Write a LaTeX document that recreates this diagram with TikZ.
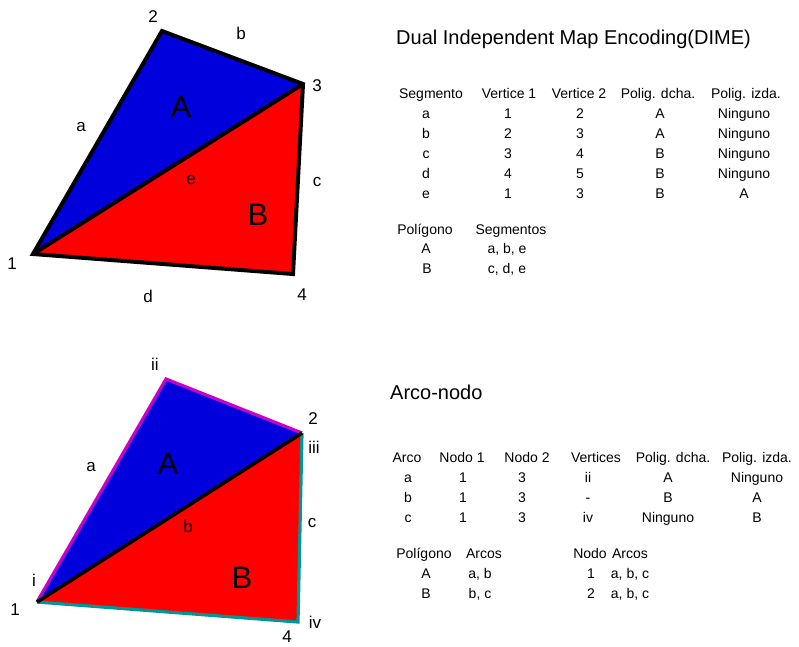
\documentclass[tikz,border=0pt]{standalone}
\usepackage{fontspec}
\setmainfont{Liberation Sans}
\begin{document}
\begin{tikzpicture}[x=1pt,y=-1pt,
  tab/.style={font=\fontsize{14}{16}\selectfont, inner sep=0pt, text height=10pt, text depth=0pt, anchor=center},
  ttl/.style={font=\fontsize{20}{23}\selectfont, inner sep=0pt, text height=14pt, text depth=0pt, anchor=west},
  vlab/.style={font=\fontsize{17}{20}\selectfont, inner sep=0pt, text height=12pt, text depth=0pt},
  elab/.style={font=\fontsize{17}{20}\selectfont, inner sep=0pt, text height=9pt, text depth=0pt},
  plab/.style={font=\fontsize{31}{34}\selectfont, inner sep=0pt, text height=22pt, text depth=0pt},
  blueface/.style={fill={rgb,255:red,0;green,0;blue,220}},
  redface/.style={fill={rgb,255:red,255;green,0;blue,0}},
  edge/.style={line width=4pt, draw=black},
  mag/.style={line width=3.2pt, draw={rgb,255:red,200;green,0;blue,200}},
  teal/.style={line width=3.2pt, draw={rgb,255:red,0;green,150;blue,150}}
]
\useasboundingbox (0,0) rectangle (799,646);
% ---------- top polygon ----------
\coordinate (t1) at (33,254);
\coordinate (t2) at (162,31);
\coordinate (t3) at (303,84);
\coordinate (t4) at (293,274);
\fill[blueface] (t1) -- (t2) -- (t3) -- cycle;
\fill[redface] (t1) -- (t3) -- (t4) -- cycle;
\draw[edge, line join=miter] (t1) -- (t2) -- (t3) -- (t4) -- cycle;
\draw[edge] (t1) -- (t3);
\node[vlab] (n1) at (12,263) {1};
\node[vlab] (n2) at (153,16) {2};
\node[vlab] (n3) at (317,85) {3};
\node[vlab] (n4) at (302,294) {4};
\node[elab] (ea) at (81,127) {a};
\node[elab] (eb) at (241,35) {b};
\node[elab] (ec) at (317,182) {c};
\node[elab] (ed) at (148,298) {d};
\node[elab] (ee) at (191,180) {e};
\node[plab] (pA) at (181,106) {A};
\node[plab] (pB) at (258,214) {B};
% ---------- top tables ----------
\node[ttl] (title1) at (396,37) {Dual Independent Map Encoding(DIME)};
\node[tab] (h1) at (431,93) {Segmento};
\node[tab] (h2) at (509,93) {Vertice 1};
\node[tab] (h3) at (579,93) {Vertice 2};
\node[tab] (h4) at (658,93) {Polig. dcha.};
\node[tab] (h5) at (746,93) {Polig. izda.};
\foreach \y/\s/\va/\vb/\pd/\pi [count=\i] in
  {113/a/1/2/A/Ninguno, 133/b/2/3/A/Ninguno, 153/c/3/4/B/Ninguno,
   173/d/4/5/B/Ninguno, 193/e/1/3/B/A}{
  \node[tab] (ra\i) at (426,\y) {\s};
  \node[tab] (rb\i) at (508,\y) {\va};
  \node[tab] (rc\i) at (580,\y) {\vb};
  \node[tab] (rd\i) at (660,\y) {\pd};
  \node[tab] (re\i) at (744,\y) {\pi};
}
\node[tab] (hp) at (425,229) {Polígono};
\node[tab] (hs) at (511,229) {Segmentos};
\node[tab] (pa1) at (426,248) {A};
\node[tab] (sa1) at (507,248) {a, b, e};
\node[tab] (pb1) at (427,268) {B};
\node[tab] (sb1) at (507,268) {c, d, e};
% ---------- bottom polygon ----------
\coordinate (b1) at (37,602);
\coordinate (b2) at (166,379);
\coordinate (b3) at (302,433);
\coordinate (b4) at (298,622);
\fill[blueface] (b1) -- (b2) -- (b3) -- cycle;
\fill[redface] (b1) -- (b3) -- (b4) -- cycle;
\draw[mag] (b1) -- (b2) -- (b3);
\draw[teal] (b3) -- (b4) -- (b1);
\draw[line width=3.6pt] (b1) -- (b3);
\node[vlab] (m1) at (15,609) {1};
\node[vlab] (m2) at (313,418) {2};
\node[vlab] (m4) at (287,636) {4};
\node[vlab] (vi) at (34,580) {i};
\node[vlab] (vii) at (155,364) {ii};
\node[vlab] (viii) at (314,447) {iii};
\node[vlab] (viv) at (315,622) {iv};
\node[elab] (fa) at (91,467) {a};
\node[elab] (fb) at (188,528) {b};
\node[elab] (fc) at (312,523) {c};
\node[plab] (qA) at (168,463) {A};
\node[plab] (qB) at (242,577) {B};
% ---------- bottom tables ----------
\node[ttl] (title2) at (390,392) {Arco-nodo};
\node[tab] (k1) at (407,457) {Arco};
\node[tab] (k2) at (462,457) {Nodo 1};
\node[tab] (k3) at (527,457) {Nodo 2};
\node[tab] (k4) at (596,457) {Vertices};
\node[tab] (k5) at (673,457) {Polig. dcha.};
\node[tab] (k6) at (757,457) {Polig. izda.};
\foreach \y/\s/\na/\nb/\ve/\pd/\pi [count=\i] in
  {477/a/1/3/ii/A/Ninguno, 497/b/1/3/-/B/A, 517/c/1/3/iv/Ninguno/B}{
  \node[tab] (qa\i) at (408,\y) {\s};
  \node[tab] (qb\i) at (463,\y) {\na};
  \node[tab] (qc\i) at (522,\y) {\nb};
  \node[tab] (qd\i) at (588,\y) {\ve};
  \node[tab] (qe\i) at (668,\y) {\pd};
  \node[tab] (qf\i) at (757,\y) {\pi};
}
\node[tab] (hp2) at (424,553) {Polígono};
\node[tab] (ha2) at (484,553) {Arcos};
\node[tab] (pa2) at (426,573) {A};
\node[tab] (aa2) at (480,573) {a, b};
\node[tab] (pb2) at (426,593) {B};
\node[tab] (ab2) at (480,593) {b, c};
\node[tab] (hn) at (590,553) {Nodo};
\node[tab] (han) at (630,553) {Arcos};
\node[tab] (n1r) at (591,573) {1};
\node[tab] (n1a) at (630,573) {a, b, c};
\node[tab] (n2r) at (591,593) {2};
\node[tab] (n2a) at (630,593) {a, b, c};
\end{tikzpicture}
\end{document}
